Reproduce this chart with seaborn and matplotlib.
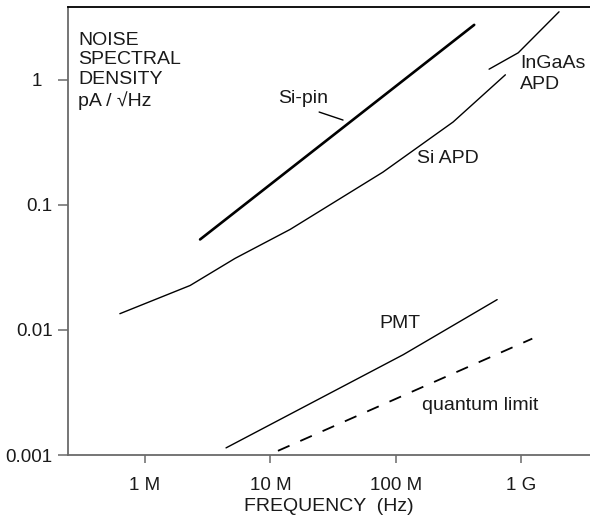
# Noise spectral density of photodetectors vs frequency

import matplotlib
matplotlib.use('Agg')
import matplotlib.pyplot as plt
import numpy as np
import pandas as pd
import seaborn as sns
from matplotlib.ticker import FixedLocator, FixedFormatter, NullLocator

# Curve data (frequency in Hz, noise in pA/sqrt(Hz))
si_pin_f = [2.75e6, 4.23e8]
si_pin_n = [0.053, 2.76]

si_apd_f = [6.3e5, 2.29e6, 5.23e6, 1.44e7, 7.9e7, 2.87e8, 7.5e8]
si_apd_n = [0.0135, 0.0227, 0.0374, 0.0638, 0.183, 0.461, 1.10]

ingaas_f = [5.56e8, 9.5e8, 2.01e9]
ingaas_n = [1.22, 1.65, 3.51]

pmt_f = [4.43e6, 1.15e8, 6.45e8]
pmt_n = [0.00114, 0.00635, 0.0175]

quantum_f = [1.15e7, 1.23e9]
quantum_n = [0.00108, 0.00853]

x_ticks = [1e6, 1e7, 1e8, 1e9]
x_tick_labels = ['1 M', '10 M', '100 M', '1 G']
y_ticks = [1, 0.1, 0.01, 0.001]
y_tick_labels = ['1  ', '0.1', '0.01', '0.001']

sns.set_style('white')
plt.rcParams['font.family'] = ['Liberation Sans', 'DejaVu Sans']
FS_TICK = 13.5
FS = 14
SPINE = '#6a6a6a'
TXT = '#1a1a1a'


def draw_curve(ax, f, n, lw, dashes=None):
    df = pd.DataFrame({'f': f, 'n': n})
    sns.lineplot(data=df, x='f', y='n', ax=ax, color='black', linewidth=lw,
                 estimator=None, sort=False)
    if dashes is not None:
        ax.lines[-1].set_dashes(dashes)


def main():
    fig = plt.figure(figsize=(5.9, 5.17), dpi=100)
    ax = fig.add_axes([68 / 590, 62 / 517, 522 / 590, 447.5 / 517])
    ax.set_xscale('log')
    ax.set_yscale('log')

    draw_curve(ax, si_pin_f, si_pin_n, 1.9)
    draw_curve(ax, si_apd_f, si_apd_n, 1.0)
    draw_curve(ax, ingaas_f, ingaas_n, 1.0)
    draw_curve(ax, pmt_f, pmt_n, 1.0)
    draw_curve(ax, quantum_f, quantum_n, 1.3, dashes=[7, 6.5])

    ax.set_xlim(2.43e5, 3.55e9)
    ax.set_ylim(0.001, 3.8)

    # axis ticks
    ax.xaxis.set_major_locator(FixedLocator(x_ticks))
    ax.xaxis.set_major_formatter(FixedFormatter(x_tick_labels))
    ax.yaxis.set_major_locator(FixedLocator(y_ticks))
    ax.yaxis.set_major_formatter(FixedFormatter(y_tick_labels))
    ax.xaxis.set_minor_locator(NullLocator())
    ax.yaxis.set_minor_locator(NullLocator())
    ax.tick_params(axis='x', which='major', direction='out', length=6, width=1.1,
                   color=SPINE, labelsize=FS_TICK, labelcolor=TXT, pad=10, bottom=True)
    ax.tick_params(axis='y', which='major', direction='out', length=7, width=1.1,
                   color=SPINE, labelsize=FS_TICK, labelcolor=TXT, pad=4, left=True)

    for side in ['left', 'bottom']:
        ax.spines[side].set_color(SPINE)
        ax.spines[side].set_linewidth(1.3)
    ax.spines['top'].set_color('black')
    ax.spines['top'].set_linewidth(1.3)
    ax.spines['right'].set_visible(False)

    ax.set_xlabel('FREQUENCY  (Hz)', fontsize=FS, color=TXT, labelpad=3)
    ax.set_ylabel('')

    # curve labels
    ax.text(2.92e5, 2.43, 'NOISE\nSPECTRAL\nDENSITY\npA / \u221aHz', fontsize=FS,
            ha='left', va='top', linespacing=1.2, color=TXT)
    ax.text(1.82e7, 0.717, 'Si-pin', fontsize=FS, ha='center', va='center', color=TXT)
    ax.plot([2.45e7, 3.8e7], [0.554, 0.478], color='black', linewidth=1.0)
    ax.text(2.62e8, 0.237, 'Si APD', fontsize=FS, ha='center', va='center', color=TXT)
    ax.text(9.84e8, 1.587, 'InGaAs\nAPD', fontsize=FS, ha='left', va='top',
            linespacing=1.35, color=TXT)
    ax.text(1.08e8, 0.01126, 'PMT', fontsize=FS, ha='center', va='center', color=TXT)
    ax.text(4.72e8, 0.00248, 'quantum limit', fontsize=FS, ha='center', va='center',
            color=TXT)

    fig.savefig('out.png', dpi=100)
    plt.close(fig)


if __name__ == '__main__':
    main()
